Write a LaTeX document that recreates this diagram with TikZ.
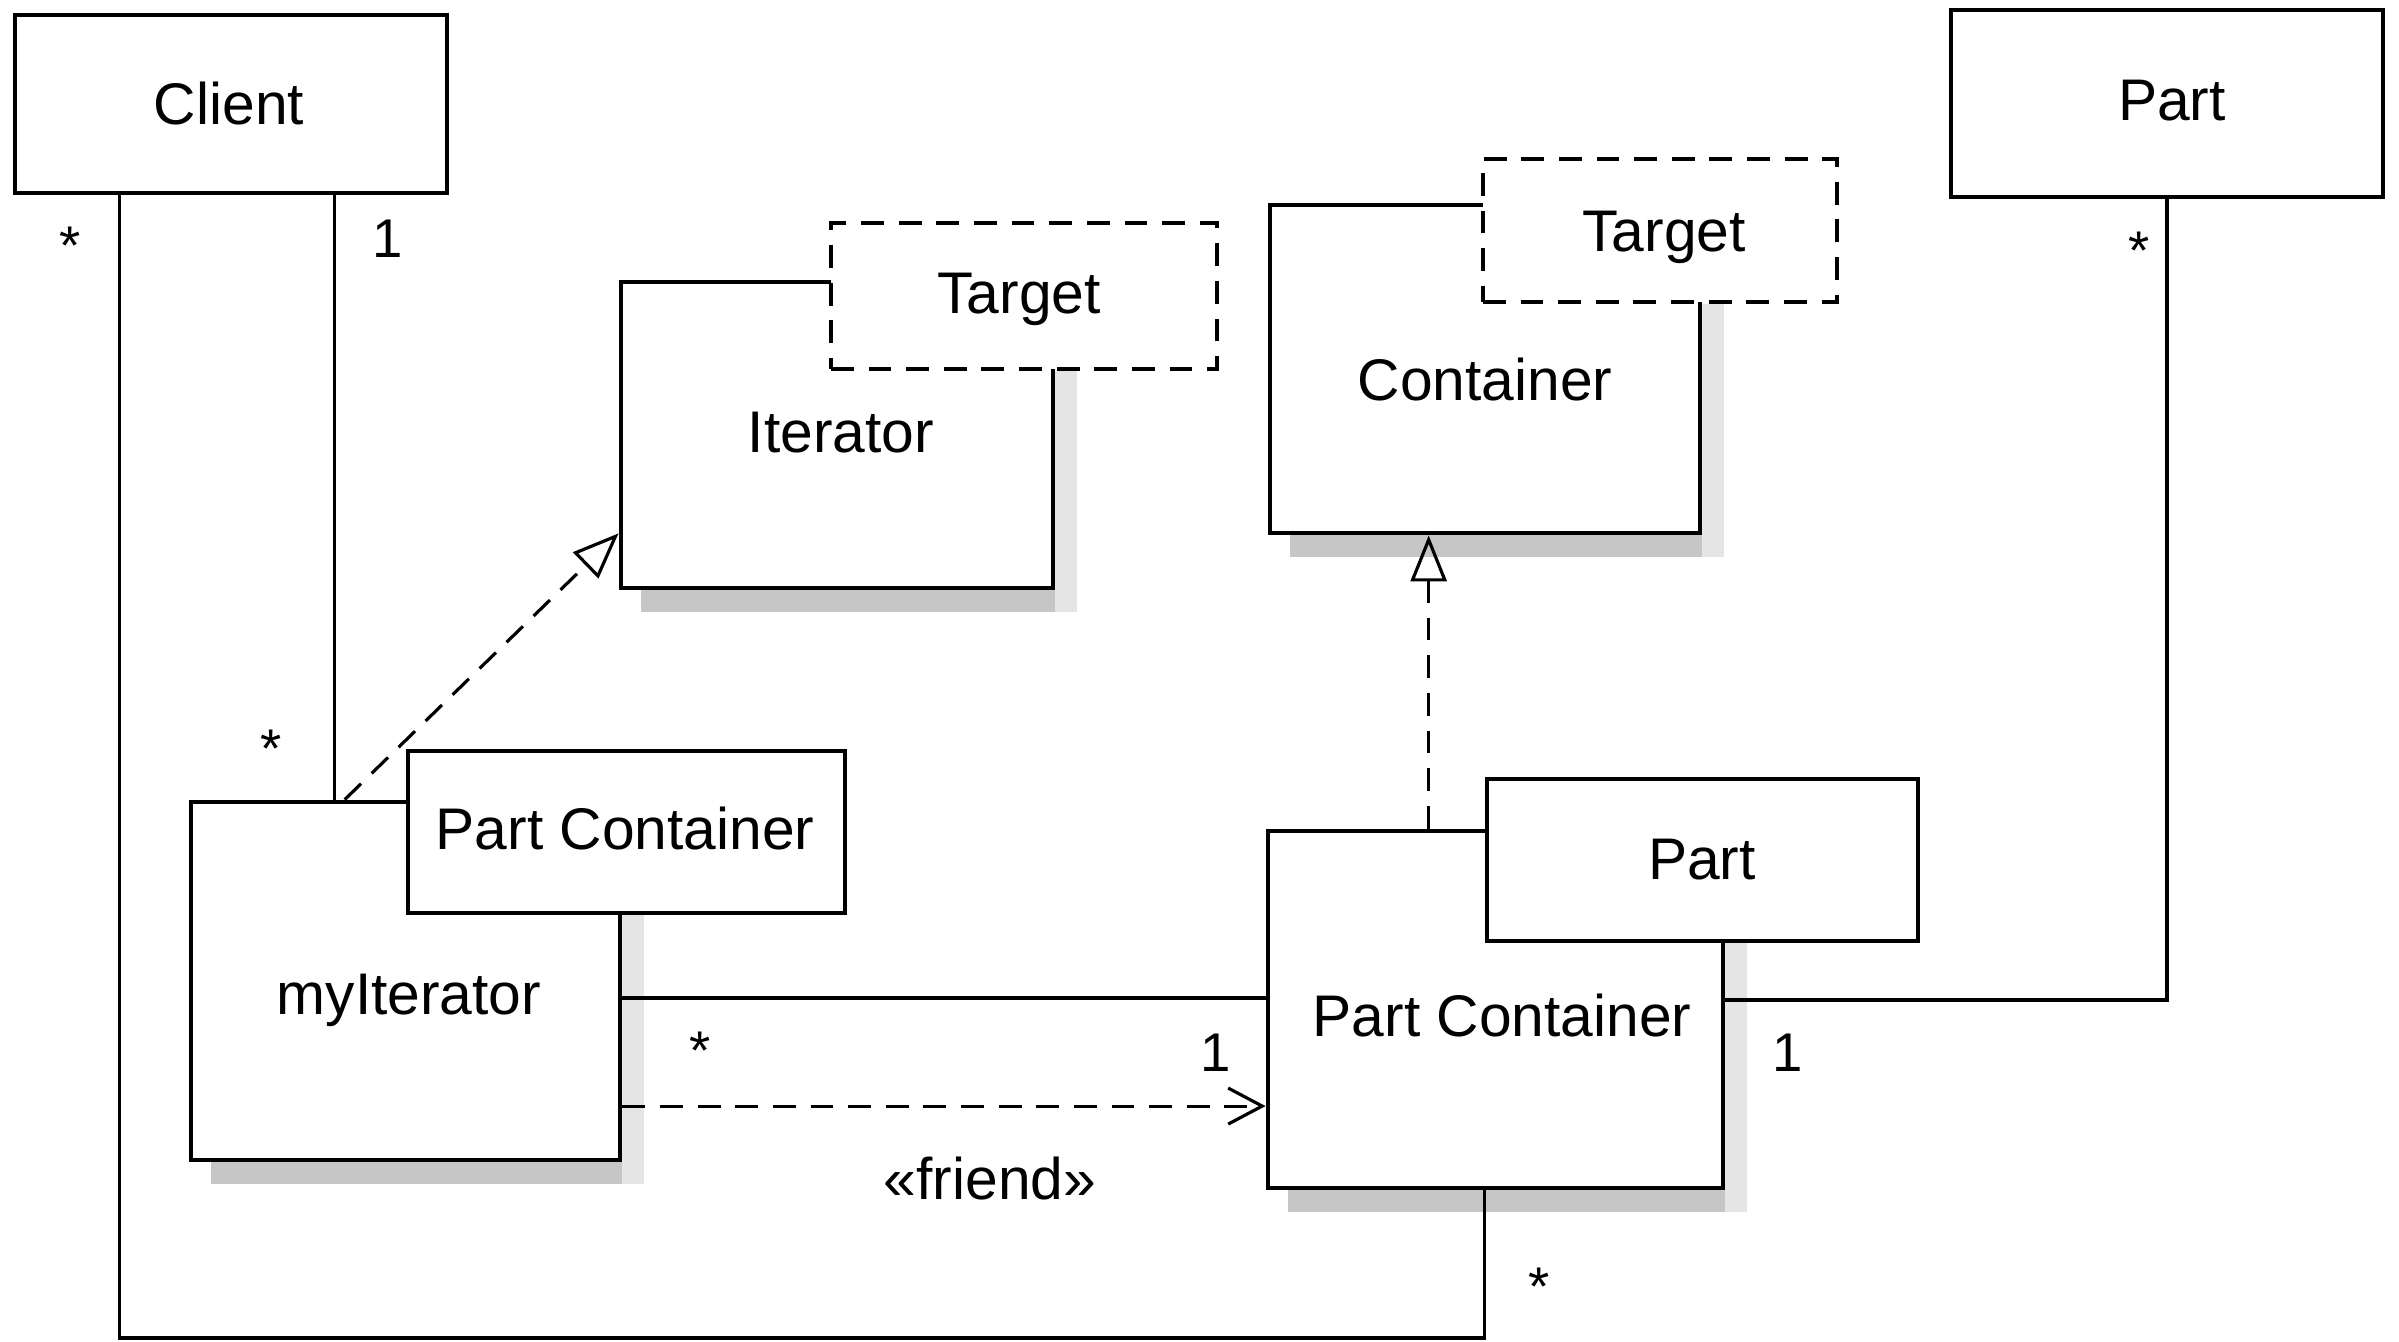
\documentclass[tikz,border=0pt]{standalone}
\usepackage{fontspec}
\setmainfont{Liberation Sans}
\usetikzlibrary{arrows.meta,backgrounds}
\begin{document}
\begin{tikzpicture}[x=0.01cm,y=-0.01cm,
  box/.style={draw, line width=1.3pt, fill=white, rectangle, inner sep=0pt, anchor=center},
  tbox/.style={box, dash pattern=on 6.5pt off 4.2pt},
  conn/.style={line width=0.9pt},
  dep/.style={conn, dash pattern=on 6.5pt off 4.2pt},
  real/.style={dep, -{Triangle[open,length=4.6mm,width=3.6mm]}},
  friend/.style={dep, -{Straight Barb[length=3.4mm,width=3.6mm]}},
  txt/.style={inner sep=0pt, anchor=base, font=\fontsize{16.7}{20}\selectfont},
  mult/.style={inner sep=0pt, anchor=base, font=\fontsize{15.5}{18}\selectfont},
  shB/.style={fill=gray!45},
  shR/.style={fill=gray!20}]

\useasboundingbox (0,0) rectangle (2399,1342);

% plain classes
\node[box, minimum width=4.32cm, minimum height=1.78cm] (client) at (231,104) {};
\node[box, minimum width=4.32cm, minimum height=1.87cm] (partTop) at (2167,103.5) {};

% template Iterator<Target>
\node[box, minimum width=4.32cm, minimum height=3.06cm] (iter) at (837,435) {};
\node[tbox, minimum width=3.86cm, minimum height=1.46cm] (iterT) at (1024,296) {};

% template Container<Target>
\node[box, minimum width=4.30cm, minimum height=3.28cm] (cont) at (1485,369) {};
\node[tbox, minimum width=3.54cm, minimum height=1.43cm] (contT) at (1660,230.5) {};

% bound myIterator<Part Container>
\node[box, minimum width=4.29cm, minimum height=3.58cm] (myit) at (405.5,981) {};
\node[box, minimum width=4.37cm, minimum height=1.62cm] (myitT) at (626.5,832) {};

% bound Part Container<Part>
\node[box, minimum width=4.55cm, minimum height=3.57cm] (pc) at (1495.5,1009.5) {};
\node[box, minimum width=4.31cm, minimum height=1.62cm] (pcT) at (1702.5,860) {};

% drop shadows
\begin{scope}[on background layer]
  \foreach \m/\t in {iter/iterT, cont/contT, myit/myitT, pc/pcT} {
    \fill[shB] ([xshift=0.22cm]\m.south west) rectangle ([xshift=0.22cm,yshift=-0.22cm]\m.south east);
    \fill[shR] (\m.east |- \t.south) rectangle ([xshift=0.22cm,yshift=-0.22cm]\m.south east);
  }
\end{scope}

% class names
\node[txt] (tClient) at (229,124) {Client};
\node[txt] (tPart) at (2172,120) {Part};
\node[txt] (tIter) at (841,452) {Iterator};
\node[txt] (tIterT) at (1019,313) {Target};
\node[txt] (tCont) at (1485,400) {Container};
\node[txt] (tContT) at (1664,251) {Target};
\node[txt] (tMyitT) at (625,849) {Part Container};
\node[txt] (tMyit) at (409,1014) {myIterator};
\node[txt] (tPcT) at (1702,879) {Part};
\node[txt] (tPc) at (1502,1036) {Part Container};
\node[txt] (tFriend) at (990,1199) {«friend»};

% connector end points on the boxes
\coordinate (clA) at ([xshift=1.07cm]client.south west);
\coordinate (clB) at ([xshift=3.22cm]client.south west);
\coordinate (pcB) at ([xshift=2.19cm]pc.south west);
\coordinate (low) at (0,1338);
\coordinate (rA) at ([xshift=1.56cm]myit.north west);
\coordinate (rB) at ([yshift=0.57cm]iter.south west);
\coordinate (rC) at ([xshift=1.63cm]pc.north west);
\coordinate (aA) at ([yshift=-0.17cm]myit.east);
\coordinate (fA) at ([yshift=-1.25cm]myit.east);
\coordinate (pE) at ([yshift=0.095cm]pc.east);

% associations
\draw[conn] (clA) -- (clA |- low) -| (pcB);
\draw[conn] (clB) -- (clB |- myit.north);
\draw[conn] (aA) -- (aA -| pc.west);
\draw[conn] (partTop.south) |- (pE);

% realizations and dependency
\draw[real] (rA) -- (rB);
\draw[real] (rC) -- (rC |- cont.south);
\draw[friend] (fA) -- (fA -| pc.west);

% multiplicities
\node[mult] (m1) at (70,264) {*};
\node[mult] (m2) at (388,257) {1};
\node[mult] (m3) at (271,767) {*};
\node[mult] (m4) at (700,1069) {*};
\node[mult] (m5) at (1216,1071) {1};
\node[mult] (m6) at (1788,1071) {1};
\node[mult] (m7) at (2139,269) {*};
\node[mult] (m8) at (1539,1305) {*};
\end{tikzpicture}
\end{document}
